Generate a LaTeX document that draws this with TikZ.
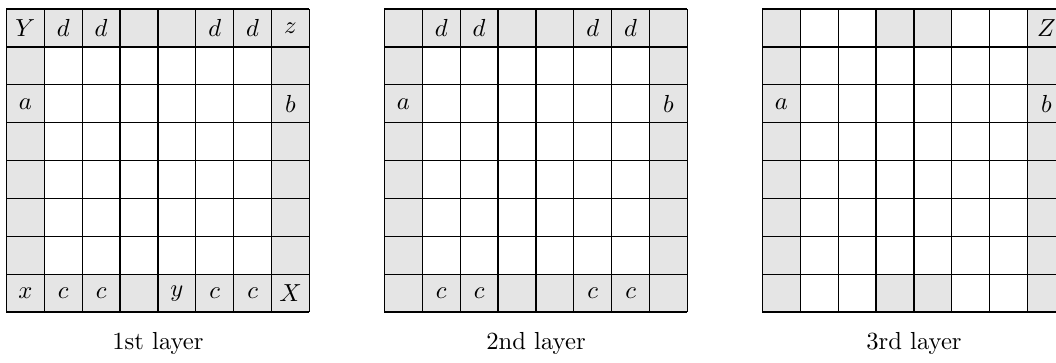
\documentclass[tikz,border=0pt]{standalone}
\tikzset{
  lay cell/.style={fill=gray!20, draw=none},
  lay grid/.style={draw=black, line width=0.5pt, step={(1,1)}},
  lay entry/.style={inner sep=0pt, font=\normalsize},
  lay caption/.style={font=\normalsize},
}

\begin{document}
\begin{tikzpicture}[x=0.54cm, y=0.54cm]
  \useasboundingbox (0,0) rectangle (27.88,-9.56);
  \clip (0,0) rectangle (27.88,-9.56);

  % Layers 1 and 2: the whole border is shaded
  \foreach \k in {0,1} {
    \begin{scope}[xshift=(0.17+9.98*\k)*0.54cm, yshift=-0.24*0.54cm]
      \foreach \i in {0,...,7} {
        \fill[lay cell] (\i,0) rectangle ++(1,-1);
        \fill[lay cell] (\i,-7) rectangle ++(1,-1);
        \fill[lay cell] (0,-\i) rectangle ++(1,-1);
        \fill[lay cell] (7,-\i) rectangle ++(1,-1);
      }
      \draw[lay grid] (0,-8) grid (8,0);
    \end{scope}
  }

  % Layer 3: side columns, and four cells of top and bottom row
  \begin{scope}[xshift=(0.17+9.98*2)*0.54cm, yshift=-0.24*0.54cm]
    \foreach \i in {0,...,7} {
      \fill[lay cell] (0,-\i) rectangle ++(1,-1);
      \fill[lay cell] (7,-\i) rectangle ++(1,-1);
    }
    \foreach \i in {3,4} {
      \fill[lay cell] (\i,0) rectangle ++(1,-1);
      \fill[lay cell] (\i,-7) rectangle ++(1,-1);
    }
    \draw[lay grid] (0,-8) grid (8,0);
  \end{scope}

  % entries of layer 1
  \begin{scope}[xshift=0.17*0.54cm, yshift=-0.24*0.54cm]
    \foreach \c/\r/\t in {0/0/Y,1/0/d,2/0/d,5/0/d,6/0/d,7/0/z,
                          0/2/a,7/2/b,
                          0/7/x,1/7/c,2/7/c,4/7/y,5/7/c,6/7/c,7/7/X}
      \node[lay entry] (one-\c-\r) at (\c+0.5,-\r-0.5) {$\t$};
    \node[lay caption] (cap-one) at (4,-8.84) {1st layer};
  \end{scope}

  % entries of layer 2
  \begin{scope}[xshift=(0.17+9.98)*0.54cm, yshift=-0.24*0.54cm]
    \foreach \c/\r/\t in {1/0/d,2/0/d,5/0/d,6/0/d,
                          0/2/a,7/2/b,
                          1/7/c,2/7/c,5/7/c,6/7/c}
      \node[lay entry] (two-\c-\r) at (\c+0.5,-\r-0.5) {$\t$};
    \node[lay caption] (cap-two) at (4,-8.84) {2nd layer};
  \end{scope}

  % entries of layer 3
  \begin{scope}[xshift=(0.17+9.98*2)*0.54cm, yshift=-0.24*0.54cm]
    \foreach \c/\r/\t in {7/0/Z,0/2/a,7/2/b}
      \node[lay entry] (three-\c-\r) at (\c+0.5,-\r-0.5) {$\t$};
    \node[lay caption] (cap-three) at (4,-8.84) {3rd layer};
  \end{scope}
\end{tikzpicture}
\end{document}
